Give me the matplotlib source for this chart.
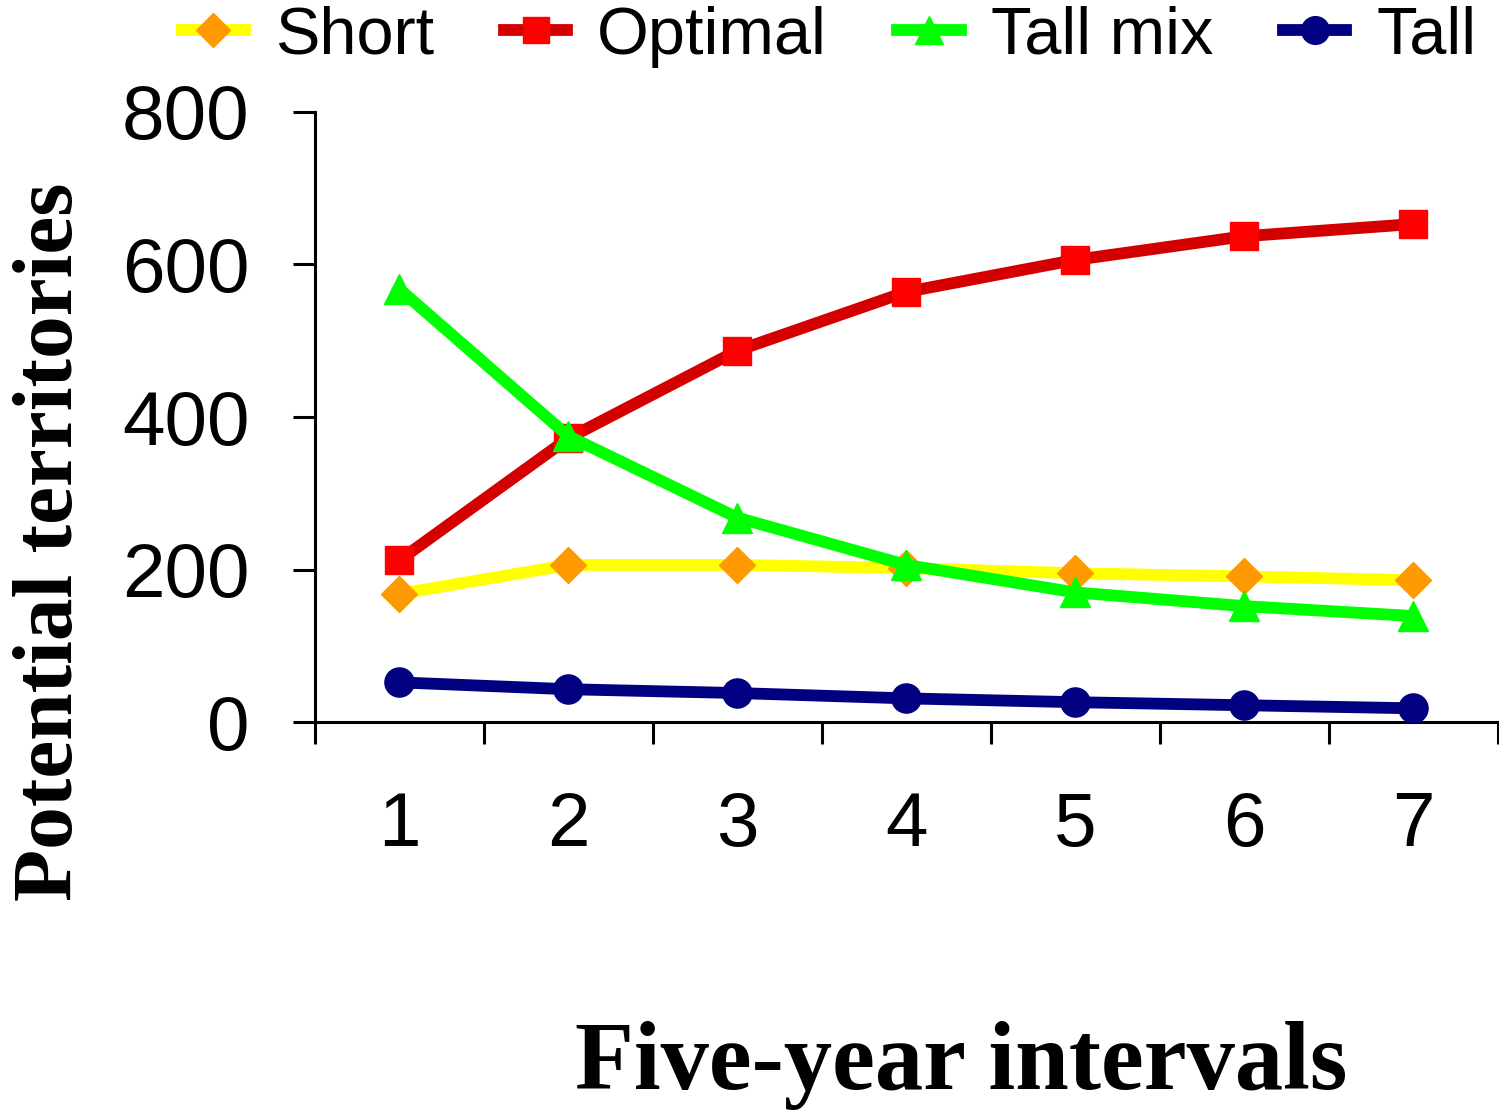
import matplotlib
matplotlib.use('Agg')
import matplotlib.pyplot as plt
from matplotlib.ticker import FixedLocator, NullFormatter, FixedFormatter

# 数据
intervals = [1, 2, 3, 4, 5, 6, 7]
short = [168, 206, 206, 202, 195, 191, 186]
optimal = [212, 372, 487, 564, 606, 637, 653]
tall_mix = [568, 375, 268, 206, 170, 152, 139]
tall = [52, 43, 38, 31, 26, 22, 18]

plt.rcParams['font.family'] = ['Liberation Sans', 'DejaVu Sans']

fig = plt.figure(figsize=(14.99, 11.12), dpi=100)
ax = fig.add_axes([0.210, 0.3507, 0.789, 0.5486])

lw = 8.5
ms = 21
ax.plot(intervals, short, color='#FFFF00', lw=lw, marker='D', ms=ms * 0.85,
        mfc='#FF9900', mec='#FF9900', label='Short', zorder=3)
ax.plot(intervals, optimal, color='#D40000', lw=lw, marker='s', ms=ms * 0.95,
        mfc='#FF0000', mec='#FF0000', label='Optimal', zorder=4)
ax.plot(intervals, tall_mix, color='#00FF00', lw=lw, marker='^', ms=ms,
        mfc='#00FF00', mec='#00FF00', label='Tall mix', zorder=5)
ax.plot(intervals, tall, color='#000080', lw=lw, marker='o', ms=ms,
        mfc='#000080', mec='#000080', label='Tall', zorder=3)

ax.set_xlim(0.5, 7.5)
ax.set_ylim(0, 800)
ax.set_yticks([0, 200, 400, 600, 800])

# x 轴: 刻度线在类别边界，标签在类别中心
ax.xaxis.set_major_locator(FixedLocator([0.5 + i for i in range(8)]))
ax.xaxis.set_major_formatter(NullFormatter())
ax.xaxis.set_minor_locator(FixedLocator(intervals))
ax.xaxis.set_minor_formatter(FixedFormatter([str(i) for i in intervals]))
ax.tick_params(axis='x', which='major', length=16, width=2.2, direction='out')
ax.tick_params(axis='x', which='minor', length=0, pad=50, labelsize=55)
ax.tick_params(axis='y', length=16, width=2.2, direction='out', pad=31, labelsize=55)

for s in ['top', 'right']:
    ax.spines[s].set_visible(False)
for s in ['left', 'bottom']:
    ax.spines[s].set_linewidth(2.2)

ax.set_ylabel('Potential territories', family='Liberation Serif',
              fontweight='bold', fontsize=61.5)
ax.yaxis.set_label_coords(-0.19, 0.295)
fig.text(0.641, 0.042, 'Five-year intervals', family='Liberation Serif',
         fontweight='bold', fontsize=69.5, ha='center', va='center')

fig.legend(loc='upper center', bbox_to_anchor=(0.553, 1.049), ncol=4,
           frameon=False, fontsize=48, handlelength=0.95, handletextpad=0.45,
           columnspacing=1.05, markerscale=0.95)

fig.savefig('out.png', dpi=100)
